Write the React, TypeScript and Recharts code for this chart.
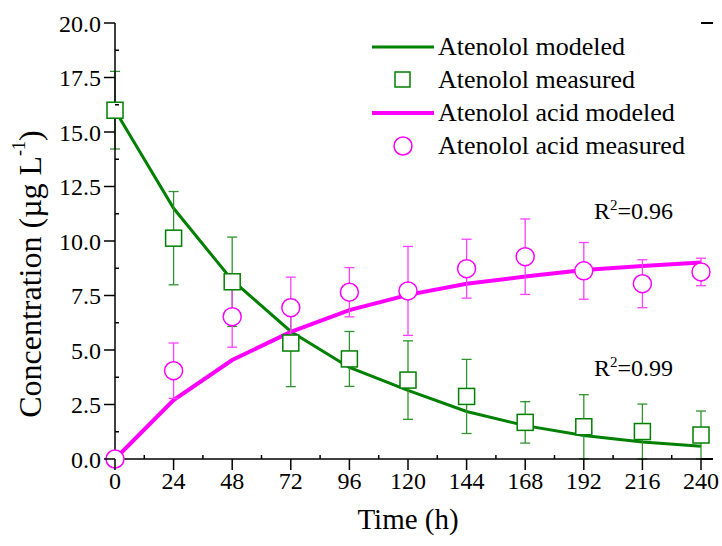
import React from "react";
import {
  ComposedChart,
  Line,
  Scatter,
  ErrorBar,
  XAxis,
  YAxis,
  Legend,
} from "recharts";

const FONT = '"Liberation Serif", "Times New Roman", serif';
const GREEN = "#008000";
const GREEN_BAR = "#2f932f";
const MAGENTA = "#ff00ff";
const MAGENTA_BAR = "#ff40ff";

const HOURS = [0, 24, 48, 72, 96, 120, 144, 168, 192, 216, 240];
const ATENOLOL_MODELED = [16.0, 11.5, 8.2, 5.85, 4.2, 3.15, 2.18, 1.53, 1.08, 0.78, 0.58];
const ATENOLOL_MEASURED = [16.0, 10.13, 8.13, 5.32, 4.59, 3.62, 2.87, 1.68, 1.48, 1.26, 1.1];
const ATENOLOL_ERR = [1.78, 2.14, 2.05, 2.0, 1.26, 1.8, 1.7, 0.95, 1.47, 1.26, 1.1];
const ACID_MODELED = [0, 2.7, 4.54, 5.83, 6.83, 7.53, 8.04, 8.37, 8.67, 8.85, 9.01];
const ACID_MEASURED = [0, 4.05, 6.53, 6.94, 7.65, 7.71, 8.73, 9.28, 8.63, 8.04, 8.58];
const ACID_ERR = [0, 1.27, 1.4, 1.4, 1.13, 2.04, 1.35, 1.73, 1.3, 1.1, 0.63];

const X_TICKS = [0, 12, 24, 36, 48, 60, 72, 84, 96, 108, 120, 132, 144, 156, 168, 180, 192, 204, 216, 228, 240];
const Y_TICKS = [0, 1.25, 2.5, 3.75, 5, 6.25, 7.5, 8.75, 10, 11.25, 12.5, 13.75, 15, 16.25, 17.5, 18.75, 20];

const LEGEND_ITEMS = [
  { label: "Atenolol modeled", color: GREEN, kind: "line" },
  { label: "Atenolol measured", color: GREEN, kind: "square" },
  { label: "Atenolol acid modeled", color: MAGENTA, kind: "line" },
  { label: "Atenolol acid measured", color: MAGENTA, kind: "circle" },
];

const rows = HOURS.map((t, i) => ({
  t,
  atenModel: ATENOLOL_MODELED[i],
  atenMeas: ATENOLOL_MEASURED[i],
  atenErr: ATENOLOL_ERR[i],
  acidModel: ACID_MODELED[i],
  acidMeas: ACID_MEASURED[i],
  acidErr: ACID_ERR[i],
}));

const isMajorX = (v: number) => v % 24 === 0;
const isMajorY = (v: number) => Math.abs(v / 2.5 - Math.round(v / 2.5)) < 1e-6;

function BottomTick(props: any) {
  const { x, y, payload } = props;
  const major = isMajorX(payload.value);
  return (
    <g>
      <line x1={x} x2={x} y1={major ? y : y - 4} y2={major ? y + 11 : y} stroke="#000" strokeWidth={1.5} />
      {major && (
        <text x={x} y={y + 30} textAnchor="middle" fontSize={24} fontFamily={FONT} fill="#000">
          {payload.value}
        </text>
      )}
    </g>
  );
}

function LeftTick(props: any) {
  const { x, y, payload } = props;
  const major = isMajorY(payload.value);
  return (
    <g>
      <line x1={major ? x - 11 : x} x2={major ? x : x + 4} y1={y} y2={y} stroke="#000" strokeWidth={1.5} />
      {major && (
        <text x={x - 14} y={y + 8.5} textAnchor="end" fontSize={24} fontFamily={FONT} fill="#000">
          {payload.value.toFixed(1)}
        </text>
      )}
    </g>
  );
}

function TopTick(props: any) {
  const { x, y } = props;
  return <line x1={x} x2={x} y1={y} y2={y + 4} stroke="#000" strokeWidth={1.2} />;
}

function RightTick(props: any) {
  const { x, y } = props;
  return <line x1={x - 4} x2={x} y1={y} y2={y} stroke="#000" strokeWidth={1.2} />;
}

function XTitle(props: any) {
  const vb = props.viewBox;
  return (
    <text x={vb.x + vb.width / 2} y={vb.y + 70} textAnchor="middle" fontSize={29} fontFamily={FONT} fill="#000">
      Time (h)
    </text>
  );
}

function YTitle(props: any) {
  const vb = props.viewBox;
  const cx = vb.x - 25;
  const cy = 274;
  return (
    <text
      x={cx}
      y={cy}
      transform={`rotate(-90, ${cx}, ${cy})`}
      textAnchor="middle"
      dominantBaseline="central"
      fontSize={32}
      fontFamily={FONT}
      fill="#000"
    >
      Concentration (µg L
      <tspan dy={-11} fontSize={18}>-1</tspan>
      <tspan dy={11}>)</tspan>
    </text>
  );
}

function SquareMark(props: any) {
  const { cx, cy } = props;
  return <rect x={cx - 8} y={cy - 8} width={16} height={16} fill="#fff" stroke={GREEN} strokeWidth={1.5} />;
}

function CircleMark(props: any) {
  const { cx, cy } = props;
  return <circle cx={cx} cy={cy} r={9} fill="#fff" stroke={MAGENTA} strokeWidth={1.5} />;
}

function LegendBox() {
  return (
    <div style={{ fontFamily: FONT, fontSize: 26, color: "#000" }}>
      {LEGEND_ITEMS.map((item) => (
        <div key={item.label} style={{ display: "flex", alignItems: "center", height: 33 }}>
          <svg width={68} height={24} style={{ flexShrink: 0 }}>
            {item.kind === "line" && (
              <line x1={4} x2={66} y1={12} y2={12} stroke={item.color} strokeWidth={item.color === GREEN ? 3 : 4} />
            )}
            {item.kind === "square" && (
              <rect x={27} y={4} width={15} height={15} fill="#fff" stroke={item.color} strokeWidth={1.5} />
            )}
            {item.kind === "circle" && <circle cx={35} cy={12} r={9} fill="#fff" stroke={item.color} strokeWidth={1.5} />}
          </svg>
          <span style={{ whiteSpace: "nowrap", marginLeft: 2 }}>{item.label}</span>
        </div>
      ))}
    </div>
  );
}

function RSquared({ left, top, value }: { left: number; top: number; value: string }) {
  return (
    <div style={{ position: "absolute", left, top, fontFamily: FONT, fontSize: 24, lineHeight: "28px", whiteSpace: "nowrap" }}>
      R<span style={{ fontSize: 15, position: "relative", top: -9 }}>2</span>={value}
    </div>
  );
}

// Origin-style frame: top and bottom axis lines run a little past the right axis
function AxisOverhang({ top }: { top: number }) {
  return <div style={{ position: "absolute", left: 701, top: top - 0.75, width: 12, height: 1.5, background: "#000" }} />;
}

export default function App() {
  return (
    <div style={{ position: "absolute", left: 0, top: 0, width: 722, height: 546, background: "#fff", overflow: "hidden" }}>
      <style>{"html, body { margin: 0; overflow: hidden; }"}</style>
      <ComposedChart width={722} height={546} data={rows} margin={{ top: 23, right: 21, bottom: 47, left: 55 }}>
        <XAxis
          xAxisId="b"
          dataKey="t"
          type="number"
          domain={[0, 240]}
          ticks={X_TICKS}
          interval={0}
          tickSize={0}
          tickMargin={0}
          tickLine={false}
          tick={BottomTick}
          axisLine={{ stroke: "#000", strokeWidth: 1.5 }}
          height={40}
          label={<XTitle />}
        />
        <XAxis
          xAxisId="t"
          orientation="top"
          dataKey="t"
          type="number"
          domain={[0, 240]}
          ticks={X_TICKS}
          interval={0}
          tickSize={0}
          tickMargin={0}
          tickLine={false}
          tick={TopTick}
          axisLine={{ stroke: "#000", strokeWidth: 1.5 }}
          height={0}
          allowDataOverflow
        />
        <YAxis
          yAxisId="l"
          type="number"
          domain={[0, 20]}
          ticks={Y_TICKS}
          interval={0}
          tickSize={0}
          tickMargin={0}
          tickLine={false}
          tick={LeftTick}
          axisLine={{ stroke: "#000", strokeWidth: 1.5 }}
          width={60}
          label={<YTitle />}
        />
        <YAxis
          yAxisId="r"
          orientation="right"
          type="number"
          domain={[0, 20]}
          ticks={Y_TICKS}
          interval={0}
          tickSize={0}
          tickMargin={0}
          tickLine={false}
          tick={RightTick}
          axisLine={{ stroke: "#000", strokeWidth: 1.5 }}
          width={0}
          allowDataOverflow
        />
        <Line
          xAxisId="b"
          yAxisId="l"
          type="linear"
          dataKey="atenModel"
          stroke={GREEN}
          strokeWidth={3}
          dot={false}
          activeDot={false}
          isAnimationActive={false}
        />
        <Line
          xAxisId="b"
          yAxisId="l"
          type="linear"
          dataKey="acidModel"
          stroke={MAGENTA}
          strokeWidth={4}
          dot={false}
          activeDot={false}
          isAnimationActive={false}
        />
        <Scatter xAxisId="b" yAxisId="l" dataKey="atenMeas" shape={SquareMark} isAnimationActive={false}>
          <ErrorBar dataKey="atenErr" direction="y" width={5} stroke={GREEN_BAR} strokeWidth={1.3} />
        </Scatter>
        <Scatter xAxisId="b" yAxisId="l" dataKey="acidMeas" shape={CircleMark} isAnimationActive={false}>
          <ErrorBar dataKey="acidErr" direction="y" width={5} stroke={MAGENTA_BAR} strokeWidth={1.3} />
        </Scatter>
        <Legend
          layout="vertical"
          align="center"
          verticalAlign="middle"
          content={LegendBox}
          wrapperStyle={{ position: "absolute", left: 368, top: 30, width: 340, height: "auto" }}
        />
      </ComposedChart>
      <AxisOverhang top={23} />
      <AxisOverhang top={459} />
      {/* blank the empty corner above the frame */}
      <div style={{ position: "absolute", left: 704, top: 0, width: 18, height: 17, background: "#fff" }} />
      <RSquared left={594} top={197} value="0.96" />
      <RSquared left={594} top={354} value="0.99" />
    </div>
  );
}
